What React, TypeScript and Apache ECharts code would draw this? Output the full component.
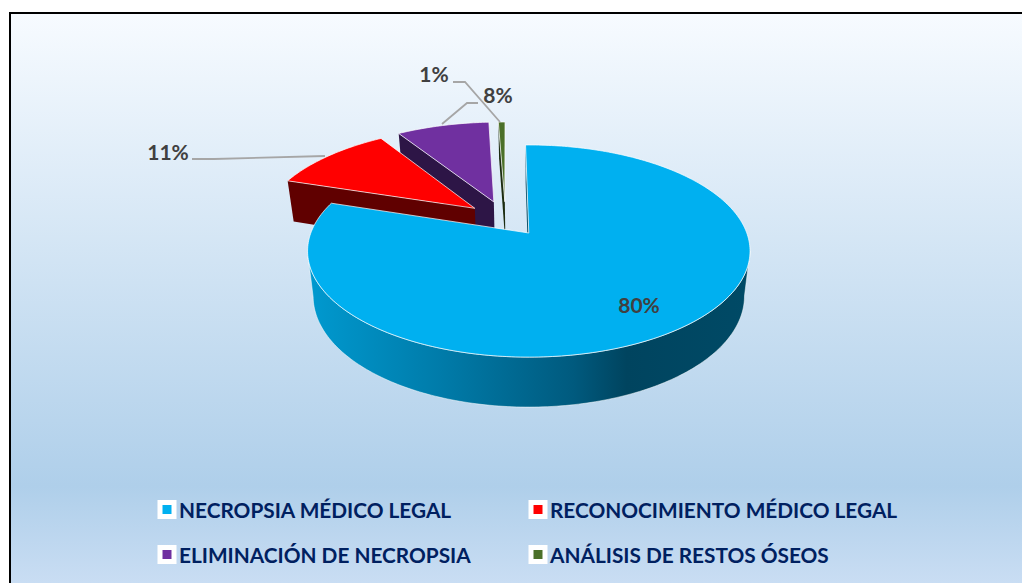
import React, { useEffect, useRef } from "react";
import * as echarts from "echarts";

const categories = [
  "NECROPSIA MÉDICO LEGAL",
  "RECONOCIMIENTO MÉDICO LEGAL",
  "ELIMINACIÓN DE NECROPSIA",
  "ANÁLISIS DE RESTOS ÓSEOS",
];
const values = [80.2, 10.9, 8.3, 0.6];
const topColors = ["#00b0f0", "#ff0000", "#7030a0", "#4b7029"];
const faceColors = ["#0b4f66", "#600000", "#2d1546", "#1c2c10"];

// Explosion of every slice on the pie's ground plane, in pie radii.
const explodeX = [0, -0.258, -0.169, -0.116];
const explodeY = [0, 0.25, 0.318, 0.32];

// Label placement and leader lines, in pixels.
const labelX = [639, 168, 498, 434];
const labelY = [304, 151, 94, 73];
const leaders: number[][][] = [
  [],
  [[192, 159], [214, 159], [325, 156]],
  [[478, 103], [467, 103], [442, 124]],
  [[453, 82], [465, 82], [500, 122]],
];

const CX = 528.8;
const CY = 233;
const RX = 218;
const RY = 103;
const PERSP = 0.17;
const ROTATION = -1;
const WALL_SCALE = 0.975;
const FONT = "Lato, Carlito, Calibri, sans-serif";

const rad = (d: number) => (d * Math.PI) / 180;
const project = (X: number, Y: number) => {
  const w = 1 + PERSP * Y;
  return [CX + (RX * X) / w, CY - (RY * Y) / w];
};
const projectLow = (X: number, Y: number) => {
  const [x, y] = project(X, Y);
  return [CX + (x - CX) * WALL_SCALE, y + 44 - 6 * Y];
};

const total = values.reduce((a, b) => a + b, 0);
const starts: number[] = [];
values.reduce((acc, v, i) => {
  starts[i] = acc;
  return acc + (v / total) * 360;
}, ROTATION);

const tangent = (Math.acos(-PERSP) * 180) / Math.PI;

function sliceChildren(i: number, value: number) {
  const a0 = starts[i];
  const a1 = a0 + (value / total) * 360;
  const ox = explodeX[i];
  const oy = explodeY[i];
  const at = (deg: number) => [Math.sin(rad(deg)) + ox, Math.cos(rad(deg)) + oy];
  const children: any[] = [];

  // Cut face of the slice's starting edge.
  const o = at(a0);
  children.push({
    type: "polygon",
    shape: {
      points: [project(ox, oy), project(o[0], o[1]), projectLow(o[0], o[1]), projectLow(ox, oy)],
    },
    style: { fill: faceColors[i] },
  });

  // Outer rim where it faces the viewer.
  const r0 = Math.max(a0, tangent);
  const r1 = Math.min(a1, 360 - tangent);
  if (r1 > r0) {
    const up: number[][] = [];
    const low: number[][] = [];
    for (let d = r0; d <= r1 + 0.001; d += 1) {
      const p = at(d);
      up.push(project(p[0], p[1]));
      low.push(projectLow(p[0], p[1]));
    }
    children.push({
      type: "polygon",
      shape: { points: up.concat(low.reverse()) },
      style: {
        fill: {
          type: "linear",
          x: 310,
          y: 0,
          x2: 750,
          y2: 0,
          global: true,
          colorStops: [
            { offset: 0, color: "#0099cf" },
            { offset: 0.3, color: "#007ba9" },
            { offset: 0.6, color: "#005a7e" },
            { offset: 0.72, color: "#00445f" },
            { offset: 1, color: "#004a66" },
          ],
        },
        stroke: "rgba(255,255,255,0.5)",
        lineWidth: 1,
      },
    });
  }

  // Top surface.
  const pts: number[][] = [project(ox, oy)];
  const steps = Math.max(2, Math.ceil(a1 - a0));
  for (let s = 0; s <= steps; s++) {
    const p = at(a0 + ((a1 - a0) * s) / steps);
    pts.push(project(p[0], p[1]));
  }
  children.push({
    type: "polygon",
    shape: { points: pts },
    style: { fill: topColors[i], stroke: "rgba(255,255,255,0.7)", lineWidth: 1 },
  });

  if (leaders[i].length) {
    children.push({
      type: "polyline",
      shape: { points: leaders[i] },
      style: { stroke: "#a6a6a6", fill: null, lineWidth: 1.8 },
    });
  }
  children.push({
    type: "text",
    x: labelX[i],
    y: labelY[i],
    style: {
      text: `${Math.round((value / total) * 100)}%`,
      fill: "#404040",
      fontFamily: FONT,
      fontWeight: "bold",
      fontSize: 21,
      textAlign: "center",
      textVerticalAlign: "middle",
    },
  });
  return children;
}

const legendCommon = {
  orient: "vertical",
  selectedMode: false,
  padding: 0,
  height: 84,
  itemWidth: 14,
  itemHeight: 14,
  itemGap: 24,
  icon: "rect",
  itemStyle: { borderColor: "#ffffff", borderWidth: 5 },
  textStyle: { color: "#002060", fontFamily: FONT, fontWeight: "bold", fontSize: 20.8 },
};

export default function App() {
  const ref = useRef<HTMLDivElement>(null);
  useEffect(() => {
    document.body.style.margin = "0";
    const chart = echarts.init(ref.current!, undefined, { renderer: "svg" });
    // Painted back to front: the small far slices first.
    const order = [3, 2, 1, 0];
    chart.setOption({
      animation: false,
      backgroundColor: "#ffffff",
      color: topColors,
      graphic: [
        {
          type: "rect",
          z: 0,
          shape: { x: 10, y: 13, width: 1012, height: 570 },
          style: {
            fill: {
              type: "linear",
              x: 0,
              y: 13,
              x2: 0,
              y2: 583,
              global: true,
              colorStops: [
                { offset: 0, color: "#f7fbff" },
                { offset: 0.83, color: "#afcfea" },
                { offset: 1, color: "#c9ddf3" },
              ],
            },
          },
        },
        { type: "line", z: 1, shape: { x1: 9, y1: 13, x2: 1022, y2: 13 }, style: { stroke: "#000000", lineWidth: 2 } },
        { type: "line", z: 1, shape: { x1: 10, y1: 12, x2: 10, y2: 583 }, style: { stroke: "#000000", lineWidth: 2 } },
      ],
      legend: [
        { ...legendCommon, left: 157.5, top: 499, data: [categories[0], categories[2]] },
        { ...legendCommon, left: 528.5, top: 499, data: [categories[1], categories[3]] },
      ],
      series: order.map((i) => ({
        type: "custom",
        name: categories[i],
        coordinateSystem: "none",
        silent: true,
        itemStyle: { color: topColors[i] },
        data: [[values[i]]],
        renderItem: (_p: any, api: any) => ({
          type: "group",
          children: sliceChildren(i, api.value(0)),
        }),
      })),
    });
    return () => chart.dispose();
  }, []);
  return <div ref={ref} style={{ position: "fixed", left: 0, top: 0, width: 1022, height: 583 }} />;
}
